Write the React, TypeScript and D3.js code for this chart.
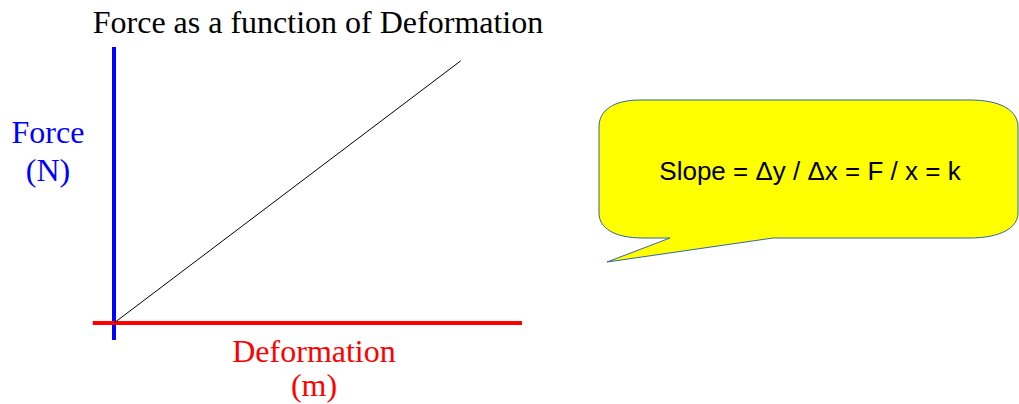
import React, { useEffect, useRef } from "react";
import * as d3 from "d3";

// the relation drawn: force grows linearly with deformation
const deformation = [0, 8.5];
const force = [0, 8.5];

const xAxisExtent = [-0.52, 10];
const yAxisExtent = [-0.55, 8.95];

const title = "Force as a function of Deformation";
const yLabel = ["Force", "(N)"];
const xLabel = ["Deformation", "(m)"];
const note = "Slope = Δy / Δx = F / x = k";

const App = () => {
  const ref = useRef<SVGSVGElement>(null);

  useEffect(() => {
    const width = 1019;
    const height = 404;
    const svg = d3.select(ref.current);
    svg.selectAll("*").remove();
    svg.attr("width", width).attr("height", height);

    const x = d3.scaleLinear().domain([0, 10]).range([114, 522]);
    const y = d3.scaleLinear().domain([0, 10]).range([323, 14.5]);

    const serif = "'Liberation Serif', 'Times New Roman', serif";

    svg
      .append("text")
      .attr("x", 318)
      .attr("y", 33)
      .attr("text-anchor", "middle")
      .attr("font-family", serif)
      .attr("font-size", 32)
      .attr("fill", "#000")
      .text(title);

    // y axis (blue)
    svg
      .append("line")
      .attr("x1", x(0))
      .attr("x2", x(0))
      .attr("y1", y(yAxisExtent[0]))
      .attr("y2", y(yAxisExtent[1]))
      .attr("stroke", "#0000ff")
      .attr("stroke-width", 4);

    // x axis (red)
    svg
      .append("line")
      .attr("x1", x(xAxisExtent[0]))
      .attr("x2", x(xAxisExtent[1]))
      .attr("y1", y(0))
      .attr("y2", y(0))
      .attr("stroke", "#ff0000")
      .attr("stroke-width", 4);

    const pts = deformation.map((d, i) => [d, force[i]] as [number, number]);
    const line = d3
      .line<[number, number]>()
      .x((d) => x(d[0]))
      .y((d) => y(d[1]));
    svg
      .append("path")
      .attr("d", line(pts))
      .attr("fill", "none")
      .attr("stroke", "#000")
      .attr("stroke-width", 1);

    yLabel.forEach((t, i) => {
      svg
        .append("text")
        .attr("x", 48)
        .attr("y", 143 + i * 38)
        .attr("text-anchor", "middle")
        .attr("font-family", serif)
        .attr("font-size", 32)
        .attr("fill", "#0000ff")
        .text(t);
    });

    xLabel.forEach((t, i) => {
      svg
        .append("text")
        .attr("x", 314)
        .attr("y", 362 + i * 34)
        .attr("text-anchor", "middle")
        .attr("font-family", serif)
        .attr("font-size", 32)
        .attr("fill", "#ff0000")
        .text(t);
    });

    // speech bubble
    const p = d3.path();
    p.moveTo(640, 100);
    p.lineTo(970, 100);
    p.bezierCurveTo(1000, 100, 1018, 110, 1018, 127);
    p.lineTo(1018, 213);
    p.bezierCurveTo(1018, 228, 1000, 238, 970, 238);
    p.lineTo(773, 238);
    p.lineTo(607, 262);
    p.lineTo(670, 238);
    p.lineTo(643, 238);
    p.bezierCurveTo(614, 238, 599, 228, 599, 213);
    p.lineTo(599, 127);
    p.bezierCurveTo(599, 110, 614, 100, 640, 100);
    p.closePath();
    svg
      .append("path")
      .attr("d", p.toString())
      .attr("fill", "#ffff00")
      .attr("stroke", "#3465a4")
      .attr("stroke-width", 1);

    svg
      .append("text")
      .attr("x", 810)
      .attr("y", 180)
      .attr("text-anchor", "middle")
      .attr("font-family", "'Liberation Sans', Arial, sans-serif")
      .attr("font-size", 26)
      .attr("fill", "#000")
      .text(note);
  }, []);

  return (
    <svg
      ref={ref}
      style={{ position: "absolute", left: 0, top: 0, display: "block" }}
    ></svg>
  );
};

export default App;
